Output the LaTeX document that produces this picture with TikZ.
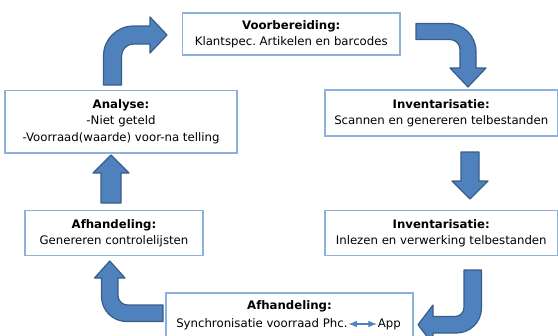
\documentclass[tikz,border=0pt]{standalone}
\usepackage{fontspec}
\setmainfont{DejaVu Sans}
\usepackage{tikz}
\usetikzlibrary{arrows}
\frenchspacing
\definecolor{boxline}{HTML}{8DB0DD}
\definecolor{arrowblue}{HTML}{4F81BD}
\definecolor{arrowedge}{HTML}{385D8A}
\tikzset{>=latex}
\tikzset{
  stagebox/.style={draw=boxline, line width=0.8pt, fill=white, inner sep=0pt, align=center,
    font=\fontsize{8.8}{12.3}\selectfont},
  stagetext/.style={inner sep=0pt, font=\fontsize{8.8}{12.3}\selectfont},
  bendarrow/.style={fill=arrowblue, draw=arrowedge, line width=0.9pt, line join=round}
}

\begin{document}
\begin{tikzpicture}[x=0.75pt, y=-0.75pt]
\useasboundingbox (0,0) rectangle (558,336);
% stages
\node[stagebox, minimum width=163.1pt, minimum height=31.5pt] (voor) at (291.25,34)
  {\textbf{Voorbereiding:}\\Klantspec. Artikelen en barcodes};
\node[stagebox, minimum width=174.4pt, minimum height=34.5pt] (scan) at (441.25,113)
  {\textbf{Inventarisatie:}\\Scannen en genereren telbestanden};
\node[stagebox, minimum width=174.4pt, minimum height=33.75pt] (inlees) at (441.25,233)
  {\textbf{Inventarisatie:}\\Inlezen en verwerking telbestanden};
\node[stagebox, minimum width=185.25pt, minimum height=42.75pt] (sync) at (289.5,321.5) {};
\node[stagetext] (synctitle) at (289.5,306.5) {\textbf{Afhandeling:}};
\node[stagetext, anchor=west] (phc) at (176,324) {Synchronisatie voorraad Phc.};
\node[stagetext, anchor=east] (app) at (401,324) {App};
\node[stagebox, minimum width=133.5pt, minimum height=33.75pt] (controle) at (114,233)
  {\textbf{Afhandeling:}\\Genereren controlelijsten};
\node[stagebox, minimum width=174pt, minimum height=46.9pt] (analyse) at (121,121.75)
  {\textbf{Analyse:}\\-Niet geteld\\-Voorraad(waarde) voor-na telling};
\draw[<->, arrowblue, line width=1.2pt, shorten <=0.5pt, shorten >=0.5pt] (phc) -- (app);

% block arrows
\filldraw[bendarrow] (103.5,85) -- (103.5,56) .. controls (103.5,39.4) and (116.9,26) .. (133.5,26)
  -- (150,26) -- (150,17) -- (167,35) -- (150,53) -- (150,44) -- (133.5,44)
  .. controls (126.9,44) and (121.5,49.4) .. (121.5,56) -- (121.5,85) -- cycle;
\filldraw[bendarrow] (416,23.5) -- (448,23.5) .. controls (463.5,23.5) and (476,36) .. (476,51.5)
  -- (476,68) -- (486,68) -- (468,87) -- (450,68) -- (460,68) -- (460,49.5)
  .. controls (460,44) and (455.5,39.5) .. (450,39.5) -- (416,39.5) -- cycle;
\filldraw[bendarrow] (461,152) -- (479,152) -- (479,181) -- (488,181) -- (470,199)
  -- (452,181) -- (461,181) -- cycle;
\filldraw[bendarrow] (464,270) -- (481.5,270) -- (481.5,308) .. controls (481.5,321.8) and (470.3,333) .. (456.5,333)
  -- (433,333) -- (433,344.5) -- (418,324.75) -- (433,305) -- (433,316.5) -- (455,316.5)
  .. controls (460,316.5) and (464,312.5) .. (464,307.5) -- cycle;
\filldraw[bendarrow] (163,305) -- (127.5,305) .. controls (122.3,305) and (118,300.7) .. (118,295.5)
  -- (118,278) -- (125,278) -- (109.75,261) -- (94.5,278) -- (101.5,278) -- (101.5,296.5)
  .. controls (101.5,310.3) and (112.7,321.5) .. (126.5,321.5) -- (163,321.5) -- cycle;
\filldraw[bendarrow] (101,203) -- (121,203) -- (121,173) -- (129,173) -- (111,155)
  -- (93,173) -- (101,173) -- cycle;
\end{tikzpicture}
\end{document}
